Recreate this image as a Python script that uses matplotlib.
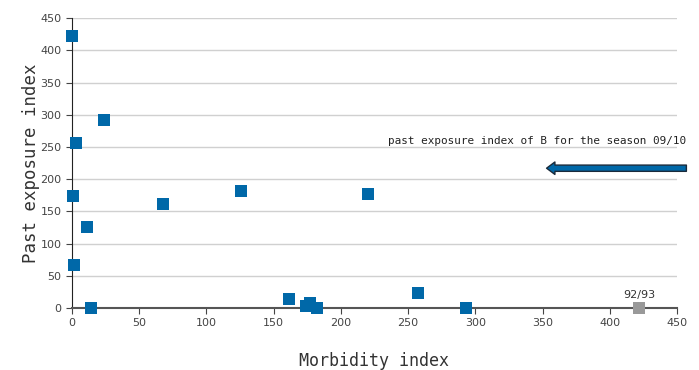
import matplotlib.pyplot as plt

# morbidity index vs past exposure index
morbidity = [0, 3, 24, 1, 11, 1.5, 14, 68, 126, 220, 161.5, 174, 177, 182, 257, 293]
exposure = [422, 256, 292, 174, 126, 67, 0, 161, 182, 177, 14, 3, 8, 0, 23, 0]
ref_x = [422]
ref_y = [0]
ref_label = "92/93"
arrow_y = 217
arrow_text = "past exposure index of B for the season 09/10"

blue = "#0068a8"
mono = "DejaVu Sans Mono"

fig = plt.figure(figsize=(6.99, 3.70), dpi=100)
ax = fig.add_axes([0.103, 0.1676, 0.8655, 0.7834])

ax.scatter(morbidity, exposure, marker="s", s=72, color=blue, zorder=3, clip_on=False, linewidths=0)
ax.scatter(ref_x, ref_y, marker="s", s=72, color="#999999", zorder=3, clip_on=False, linewidths=0)
ax.text(ref_x[0], ref_y[0] + 13, ref_label, ha="center", va="bottom", fontsize=8, color="#333333")

ax.set_xlim(0, 450)
ax.set_ylim(0, 450)
ax.set_xticks(range(0, 451, 50))
ax.set_yticks(range(0, 451, 50))
ax.yaxis.grid(True, color="#d0d0d0", linewidth=1)
ax.set_axisbelow(True)
for s in ["top", "right"]:
    ax.spines[s].set_visible(False)
ax.spines["left"].set_color("#222222")
ax.spines["bottom"].set_color("#555555")
ax.spines["bottom"].set_linewidth(1.5)
ax.tick_params(axis="both", labelsize=8, labelcolor="#444444", length=4, color="#444444")

ax.set_xlabel("Morbidity index", fontsize=12, family=mono, color="#333333", labelpad=17)
ax.set_ylabel("Past exposure index", fontsize=12.5, family=mono, color="#333333", labelpad=0)

ax.annotate("", xy=(353, arrow_y), xytext=(457, arrow_y), annotation_clip=False,
            arrowprops=dict(arrowstyle="simple,head_width=0.9,head_length=0.6,tail_width=0.45",
                            fc=blue, ec="#1a2a3a", lw=1, shrinkA=0, shrinkB=0))
ax.text(457, arrow_y + 42, arrow_text, ha="right", va="center", fontsize=7.9, family=mono,
        color="#222222", clip_on=False)

fig.savefig("out.png", dpi=100)
